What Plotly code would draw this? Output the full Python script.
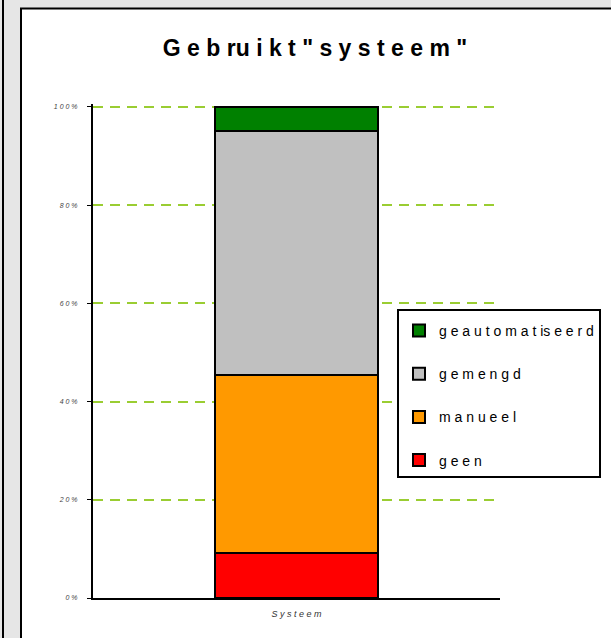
import plotly.graph_objects as go

categories = ["S y s t e e m"]
series_names = ["geen", "manueel", "gemengd", "geautomatiseerd"]
legend_labels = ["g e e n", "m a n u e e l", "g e m e n g d", "g e a u t o m a t is e e r d"]
series_values = [[9.2], [36.2], [49.7], [4.9]]
colors = ["#ff0000", "#ff9900", "#c0c0c0", "#008000"]
legend_ranks = [4, 3, 2, 1]
tick_vals = [0, 20, 40, 60, 80, 100]
tick_text = ["0 %", "2 0 %", "4 0 %", "6 0 %", "8 0 %", "1 0 0 %"]

fig = go.Figure()
for i, (name, vals) in enumerate(zip(series_names, series_values)):
    fig.add_trace(go.Bar(
        x=categories, y=vals, name=legend_labels[i],
        legendgroup=name, legendrank=legend_ranks[i],
        marker=dict(color=colors[i], line=dict(color="black", width=2)),
    ))

L, R, T, B = 93, 111, 104, 40
W, H = 611, 638
pw, ph = W - L - R, H - T - B

def px(x):
    return (x - L) / pw

def py(y):
    return (H - B - y) / ph

fig.update_layout(
    width=W, height=H,
    margin=dict(l=L, r=R, t=T, b=B, autoexpand=False),
    barmode="stack",
    bargap=0.6,
    paper_bgcolor="#e6e6e6",
    plot_bgcolor="rgba(0,0,0,0)",
    font=dict(family="Liberation Sans, Arial, sans-serif", color="black"),
    title=dict(
        text="<b>G e b ru i k t \" s y s t e e m \"</b>",
        font=dict(size=23, color="black"),
        x=px(315), xref="paper", xanchor="center",
        y=1 - 48 / H, yanchor="middle",
    ),
    showlegend=True,
    legend=dict(
        traceorder="grouped",
        tracegroupgap=22,
        x=px(397), y=py(309), xanchor="left", yanchor="top",
        bordercolor="black", borderwidth=2, bgcolor="white",
        font=dict(size=14, color="black"),
        itemwidth=30,
        title=dict(text=" ", font=dict(size=3)),
    ),
    xaxis=dict(
        range=[-0.5, 0.5],
        showline=True, linecolor="black", linewidth=2,
        ticks="", showgrid=False,
        tickvals=categories, ticktext=["<i>S y s t e e m</i>"],
        tickfont=dict(size=9, color="#333333"),
        ticklabelstandoff=6,
    ),
    yaxis=dict(
        range=[0, 100.6],
        tickvals=tick_vals, ticktext=["<i>%s</i>" % t for t in tick_text],
        showline=True, linecolor="black", linewidth=2,
        ticks="outside", ticklen=4, tickcolor="black", tickwidth=1,
        tickfont=dict(size=7, color="#444444"),
        ticklabelstandoff=8,
        showgrid=True, gridcolor="#9acd32", gridwidth=2, griddash="10px,7px",
        zeroline=False,
    ),
    shapes=[
        dict(type="rect", xref="paper", yref="paper", layer="below",
             x0=px(21), x1=px(W + 5), y0=py(H + 5), y1=py(8.5),
             fillcolor="white", line=dict(color="black", width=2)),
        dict(type="line", xref="paper", yref="paper", layer="below",
             x0=px(3), x1=px(3), y0=py(H + 5), y1=py(-5),
             line=dict(color="black", width=2)),
    ],
)

fig.write_html("out.html", config={"displayModeBar": False},
               post_script="document.body.style.margin='0';")
